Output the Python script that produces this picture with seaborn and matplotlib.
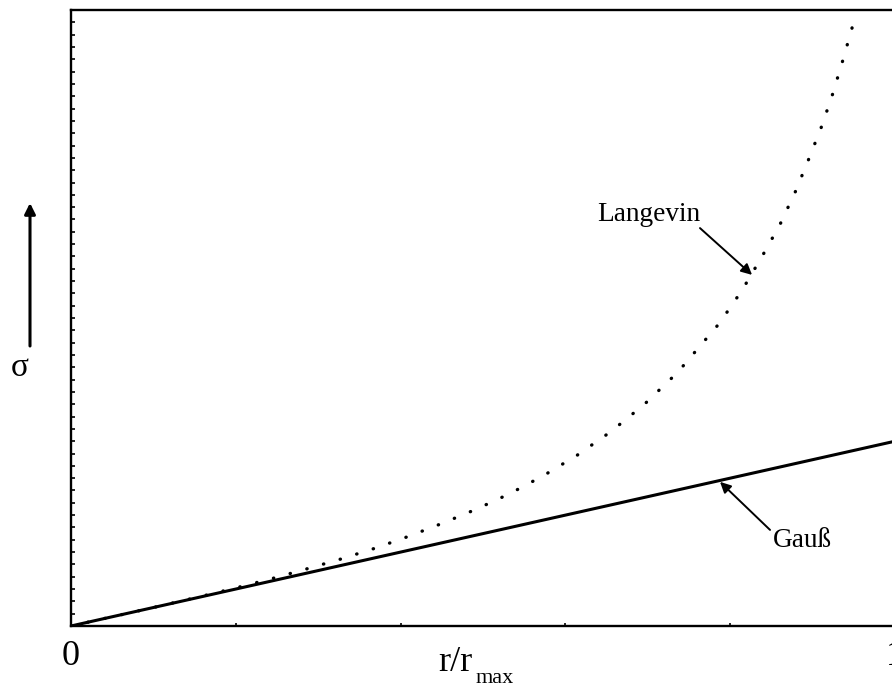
import matplotlib
matplotlib.use("Agg")
import matplotlib.pyplot as plt
import numpy as np
import pandas as pd
import seaborn as sns

# Normalised extension r/r_max and stress sigma for the two chain models
gauss_x = [0.0, 1.0]
gauss_y = [0.0, 3.0]

langevin_x = [0.0, 0.10, 0.1647, 0.2059, 0.2464, 0.2868, 0.3277, 0.3686,
              0.4098, 0.4506, 0.4915, 0.5324, 0.5732, 0.6141, 0.6550,
              0.6958, 0.7363, 0.7868, 0.8143, 0.8382, 0.8601, 0.8790,
              0.8953, 0.9111, 0.9244, 0.9365, 0.9478, 0.9527]
langevin_y = [0.0, 0.30, 0.503, 0.638, 0.779, 0.930, 1.088, 1.261,
              1.456, 1.667, 1.894, 2.148, 2.440, 2.771, 3.154,
              3.599, 4.119, 4.914, 5.450, 5.990, 6.510, 7.050,
              7.581, 8.117, 8.641, 9.177, 9.708, 9.963]

x_ticks = [0, 1]
x_ticklabels = ["0", "1"]

sns.set_theme(style="white")
plt.rcParams["font.family"] = ["Liberation Serif", "DejaVu Serif"]
plt.rcParams["text.color"] = "black"
plt.rcParams["xtick.color"] = "black"
plt.rcParams["ytick.color"] = "black"
plt.rcParams["xtick.labelcolor"] = "black"

fig = plt.figure(figsize=(8.92, 6.87), dpi=100)
ax = fig.add_axes([0.0796, 0.0888, 0.9238, 0.8966])

gauss = pd.DataFrame({"x": gauss_x, "sigma": gauss_y})
lang = pd.DataFrame({"x": langevin_x, "sigma": langevin_y})

sns.lineplot(data=gauss, x="x", y="sigma", ax=ax, color="black",
             linewidth=2.2, solid_capstyle="butt")
sns.lineplot(data=lang, x="x", y="sigma", ax=ax, color="black",
             linewidth=2.4, linestyle=(0, (0.1, 5.1)), dash_capstyle="round")

ax.set_xlim(0, 1)
ax.set_ylim(0, 10)

for side in ["left", "bottom", "top", "right"]:
    ax.spines[side].set_visible(True)
    ax.spines[side].set_color("black")
    ax.spines[side].set_linewidth(1.7)

ax.set_xticks(x_ticks)
ax.set_xticklabels(x_ticklabels, fontsize=26, color="black")
ax.set_xticks([0.2, 0.4, 0.6, 0.8], minor=True)
ax.set_yticks([])
ax.set_yticks(np.arange(0.2, 10.0, 0.2), minor=True)
ax.tick_params(axis="x", which="major", length=0, pad=10)
ax.tick_params(axis="x", which="minor", direction="in", length=2,
               width=1.2, bottom=True, color="black")
ax.tick_params(axis="y", which="minor", direction="in", length=3,
               width=1.2, left=True, color="black")
ax.set_xlabel("")
ax.set_ylabel("")

# Curve labels with pointer arrows
ax.text(0.6383, 6.575, "Langevin", fontsize=19.6, ha="left", va="baseline",
        color="black")
ax.annotate("", xy=(0.8265, 5.70), xytext=(0.7633, 6.46),
            arrowprops=dict(arrowstyle="-|>", color="black", lw=1.4,
                            mutation_scale=16, shrinkA=0, shrinkB=0))
ax.text(0.8519, 1.282, "Gauß", fontsize=19.6, ha="left", va="baseline",
        color="black")
ax.annotate("", xy=(0.7876, 2.34), xytext=(0.8483, 1.56),
            arrowprops=dict(arrowstyle="-|>", color="black", lw=1.4,
                            mutation_scale=16, shrinkA=0, shrinkB=0))

# Axis titles
fig.text(438 / 892, 1 - 671 / 687, "r/r", fontsize=26, ha="left",
         va="baseline", color="black")
fig.text(476 / 892, 1 - 683 / 687, "max", fontsize=16, ha="left",
         va="baseline", color="black")
fig.text(20 / 892, 1 - 368 / 687, "σ", fontsize=24, ha="center",
         va="center", color="black")
fig.patches.append(matplotlib.patches.FancyArrowPatch(
    (30 / 892, 1 - 346 / 687), (30 / 892, 1 - 203 / 687),
    transform=fig.transFigure, arrowstyle="-|>", mutation_scale=16,
    color="black", lw=2.2, shrinkA=0, shrinkB=0))

fig.savefig("out.png", dpi=100)
